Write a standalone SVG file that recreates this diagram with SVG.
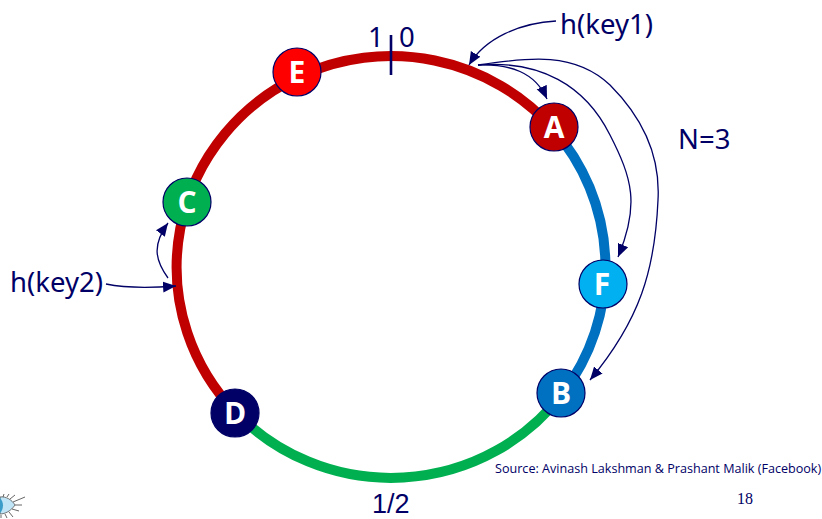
<svg xmlns="http://www.w3.org/2000/svg" width="822" height="519" viewBox="0 0 822 519">
<defs>
<marker id="ah" markerUnits="userSpaceOnUse" markerWidth="14" markerHeight="12" refX="13" refY="6" orient="auto"><path d="M0,0.5 L13,6 L0,11.5 Z" fill="#000066"/></marker>
</defs>
<style>
.ring{fill:none;stroke-width:10}
.n{stroke:#000066;stroke-width:1.2}
.nl{font:bold 30px "Open Sans","Noto Sans",sans-serif;fill:#fff;text-anchor:middle}
.t{font-family:"Noto Sans","Open Sans",sans-serif;font-size:27.5px;fill:#000066}
.c{fill:none;stroke:#000066;stroke-width:1.3}
</style>
<rect width="822" height="519" fill="#fff"/>
<g id="ring">
<path class="ring" stroke="#C00000" d="M299.2,76.4 A214.5,211 0 0 1 552.5,128.2"/>
<path class="ring" stroke="#0070C0" d="M552.5,128.2 A214.5,211 0 0 1 562.4,393.8"/>
<path class="ring" stroke="#00B050" d="M562.4,393.8 A214.5,211 0 0 1 235.7,412.4"/>
<path class="ring" stroke="#C00000" d="M235.7,412.4 A214.5,211 0 0 1 299.2,76.4"/>
</g>
<g id="connectors">
<path class="c" style="stroke-width:2.6" d="M391,35 V75"/>
<path class="c" marker-end="url(#ah)" d="M556,21 C520,23 485,38 469,65"/>
<path class="c" marker-end="url(#ah)" d="M478,65 C510,64 535,72 547,99"/>
<path class="c" marker-end="url(#ah)" d="M478,65 C540,60 585,85 610,135 C632,178 640,205 618,257"/>
<path class="c" marker-end="url(#ah)" d="M478,65 C530,57 575,52 610,85 C650,125 660,165 658,200 C655,270 640,320 590,380"/>
<path class="c" marker-end="url(#ah)" d="M106,284 C125,288 150,288 176,286"/>
<path class="c" marker-end="url(#ah)" d="M168,278 C155,260 152,245 168,223"/>
</g>
<g id="node-E"><circle class="n" cx="297" cy="72" r="24" fill="#FF0000"/><text class="nl" x="297" y="83">E</text></g>
<g id="node-A"><circle class="n" cx="554" cy="127" r="24" fill="#C00000"/><text class="nl" x="554" y="138">A</text></g>
<g id="node-F"><circle class="n" cx="603" cy="284" r="24" fill="#00B0F0"/><text class="nl" x="602" y="295">F</text></g>
<g id="node-B"><circle class="n" cx="561" cy="393" r="24" fill="#0070C0"/><text class="nl" x="561" y="404">B</text></g>
<g id="node-D"><circle class="n" cx="235" cy="413" r="24" fill="#000066"/><text class="nl" x="235" y="424">D</text></g>
<g id="node-C"><circle class="n" cx="187" cy="202" r="24" fill="#00B050"/><text class="nl" x="187" y="213">C</text></g>
<g id="labels">
<text class="t" x="368" y="47">1</text>
<text class="t" x="399" y="47">0</text>
<text class="t" x="560" y="34">h(key1)</text>
<text class="t" x="10" y="292">h(key2)</text>
<text class="t" x="678" y="149">N=3</text>
<text x="372" y="513" font-family="Liberation Sans, sans-serif" font-size="27" fill="#000066">1/2</text>
<text x="495" y="473" font-family="Open Sans, Noto Sans, sans-serif" font-size="12.6" fill="#000066">Source: Avinash Lakshman &amp; Prashant Malik (Facebook)</text>
<text x="737" y="504" font-family="Liberation Serif, serif" font-size="16" fill="#000066">18</text>
</g>
<g id="eye">
<path d="M0,497 C6,496 12,500 15,505 C11,511 5,514 0,514 Z" fill="#BFE4F5" stroke="#555" stroke-width="0.8"/>
<path d="M0,498 C4,502 4,509 0,513 Z" fill="#3A9CC8"/>
<path d="M3,497 L4,494 M7,497 L9,494 M10,499 L15,495 M13,502 L25,497 M15,505 L22,505 M12,509 L19,511 M9,512 L13,517 M5,514 L7,518 M1,515 L1,518" stroke="#555" stroke-width="0.9" fill="none"/>
</g>
</svg>
